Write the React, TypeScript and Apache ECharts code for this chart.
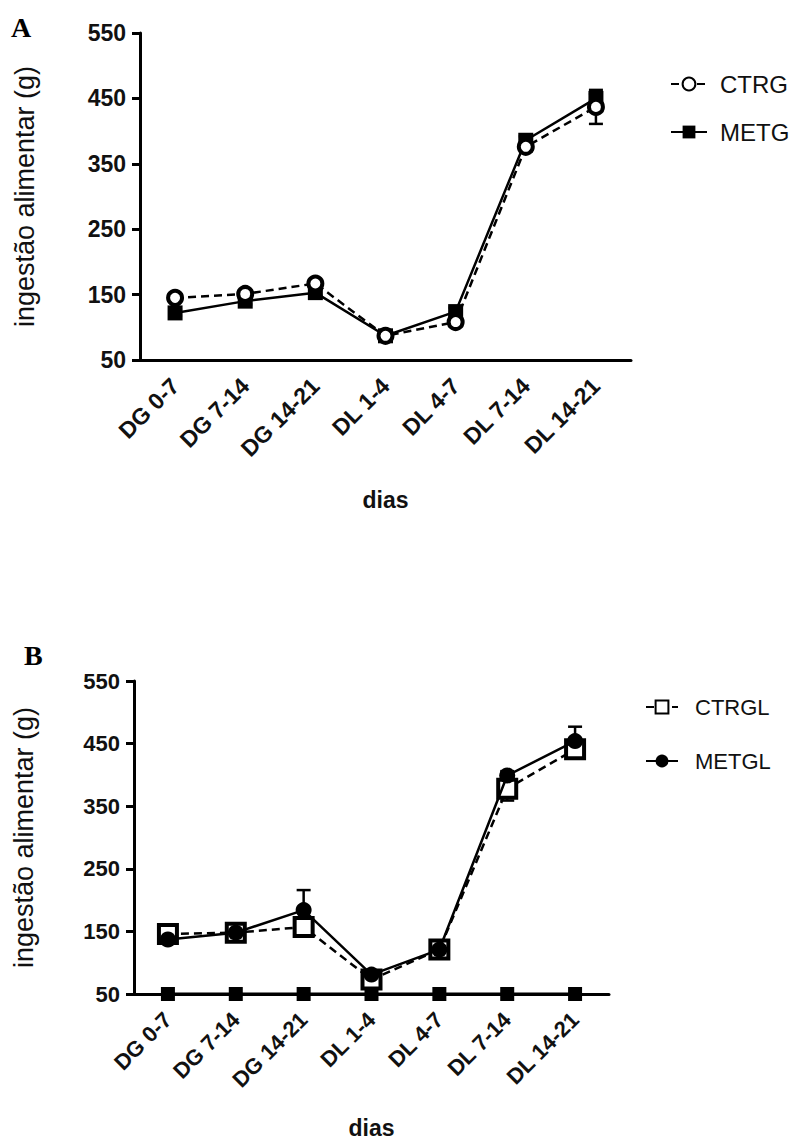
import React, { useEffect, useRef } from "react";
import * as echarts from "echarts";

const categories = ["DG 0-7", "DG 7-14", "DG 14-21", "DL 1-4", "DL 4-7", "DL 7-14", "DL 14-21"];
const yTicks = [50, 150, 250, 350, 450, 550];

// Panel A
const ctrgA = [145, 151, 167, 87, 108, 376, 437];
const ctrgAErr = [5, 5, 5, 4, 6, 7, 26];
const metgA = [122, 140, 153, 87, 124, 386, 450];
const metgAErr = [5, 5, 5, 4, 6, 6, 7];

// Panel B
const ctrglB = [146, 148, 157, 73, 121, 378, 441];
const ctrglBErr = [5, 5, 8, 6, 5, 19, 10];
const metglB = [137, 148, 184, 81, 121, 399, 454];
const metglBErr = [5, 5, 32, 6, 5, 7, 23];
const baselineB = [50, 50, 50, 50, 50, 50, 50];

const FONT = "Liberation Sans";

const errSeries = (vals: number[], errs: number[], xi: number, capW: number, z: number) => ({
  type: "custom",
  xAxisIndex: xi,
  yAxisIndex: xi,
  z,
  silent: true,
  encode: { x: 0, y: 1 },
  data: vals.map((v, i) => [i, v, errs[i]]),
  renderItem: (params: any, api: any) => {
    const i = api.value(0);
    const v = api.value(1);
    const e = api.value(2);
    const hi = api.coord([i, v + e]);
    const lo = api.coord([i, v - e]);
    const st = { stroke: "#000", lineWidth: 2.5 };
    return {
      type: "group",
      children: [
        { type: "line", shape: { x1: hi[0], y1: hi[1], x2: lo[0], y2: lo[1] }, style: st },
        { type: "line", shape: { x1: hi[0] - capW, y1: hi[1], x2: hi[0] + capW, y2: hi[1] }, style: st },
        { type: "line", shape: { x1: lo[0] - capW, y1: lo[1], x2: lo[0] + capW, y2: lo[1] }, style: st },
      ],
    };
  },
});

const makeXAxis = (gi: number, labelSize: number, nameGap: number) => ({
  type: "category",
  gridIndex: gi,
  data: categories,
  boundaryGap: true,
  name: "dias",
  nameLocation: "middle",
  nameGap,
  nameTextStyle: { fontFamily: FONT, fontSize: 23, fontWeight: "bold", color: "#111" },
  axisLine: { lineStyle: { color: "#000", width: 3 } },
  axisTick: { alignWithLabel: true, length: 8, lineStyle: { color: "#000", width: 3 } },
  axisLabel: {
    rotate: 45,
    margin: 22,
    interval: 0,
    fontFamily: FONT,
    fontSize: labelSize,
    fontWeight: "bold",
    color: "#111",
  },
  splitLine: { show: false },
});

const makeYAxis = (gi: number, labelSize: number, nameSize: number, nameGap: number) => ({
  type: "value",
  gridIndex: gi,
  min: yTicks[0],
  max: yTicks[yTicks.length - 1],
  interval: 100,
  name: "ingestão alimentar (g)",
  nameLocation: "middle",
  nameGap,
  nameTextStyle: { fontFamily: FONT, fontSize: nameSize, color: "#111" },
  axisLine: { show: true, lineStyle: { color: "#000", width: 3 } },
  axisTick: { show: true, length: 8, lineStyle: { color: "#000", width: 3 } },
  axisLabel: { margin: 14, fontFamily: FONT, fontSize: labelSize, fontWeight: "bold", color: "#111" },
  splitLine: { show: false },
});

export default function App() {
  const ref = useRef<HTMLDivElement>(null);
  useEffect(() => {
    if (!ref.current) return;
    const chart = echarts.init(ref.current, null, { renderer: "svg" });
    const option: any = {
      animation: false,
      backgroundColor: "#fff",
      grid: [
        { left: 140, top: 33, width: 491, height: 327 },
        { left: 134, top: 681, width: 475, height: 317 },
      ],
      xAxis: [makeXAxis(0, 23, 128), makeXAxis(1, 22, 122)],
      yAxis: [makeYAxis(0, 23, 27, 102), makeYAxis(1, 22, 27, 97)],
      legend: [
        {
          data: ["CTRG", "METG"],
          orient: "vertical",
          left: 665,
          top: 67,
          itemWidth: 36,
          itemHeight: 16,
          itemGap: 24,
          textStyle: { fontFamily: FONT, fontSize: 24, color: "#111", padding: [0, 0, 0, 8] },
        },
        {
          data: ["CTRGL", "METGL"],
          orient: "vertical",
          left: 640,
          top: 691,
          itemWidth: 32,
          itemHeight: 16,
          itemGap: 32,
          textStyle: { fontFamily: FONT, fontSize: 22, color: "#111", padding: [0, 0, 0, 12] },
        },
      ],
      graphic: [
        {
          type: "text",
          left: 11,
          top: 13,
          style: { text: "A", font: "bold 28px 'Liberation Serif'", fill: "#000" },
        },
        {
          type: "text",
          left: 24,
          top: 641,
          style: { text: "B", font: "bold 28px 'Liberation Serif'", fill: "#000" },
        },
      ],
      series: [
        errSeries(metgA, metgAErr, 0, 7, 2),
        errSeries(ctrgA, ctrgAErr, 0, 7, 2),
        {
          name: "METG",
          type: "line",
          xAxisIndex: 0,
          yAxisIndex: 0,
          data: metgA,
          z: 3,
          symbol: "rect",
          symbolSize: 15,
          lineStyle: { color: "#000", width: 2.5 },
          itemStyle: { color: "#000", borderColor: "#000", borderWidth: 0 },
        },
        {
          name: "CTRG",
          type: "line",
          xAxisIndex: 0,
          yAxisIndex: 0,
          data: ctrgA,
          z: 4,
          symbol: "circle",
          symbolSize: 14,
          lineStyle: { color: "#000", width: 2.5, type: [8, 5] },
          itemStyle: { color: "#fff", borderColor: "#000", borderWidth: 4 },
        },
        errSeries(ctrglB, ctrglBErr, 1, 7, 2),
        errSeries(metglB, metglBErr, 1, 7, 2),
        {
          name: "baseline",
          type: "line",
          xAxisIndex: 1,
          yAxisIndex: 1,
          data: baselineB,
          z: 5,
          clip: false,
          symbol: "rect",
          symbolSize: 14,
          lineStyle: { color: "#000", width: 3 },
          itemStyle: { color: "#000" },
        },
        {
          name: "CTRGL",
          type: "line",
          xAxisIndex: 1,
          yAxisIndex: 1,
          data: ctrglB,
          z: 3,
          symbol: "rect",
          symbolSize: 18,
          lineStyle: { color: "#000", width: 2.5, type: [8, 5] },
          itemStyle: { color: "#fff", borderColor: "#000", borderWidth: 4 },
        },
        {
          name: "METGL",
          type: "line",
          xAxisIndex: 1,
          yAxisIndex: 1,
          data: metglB,
          z: 4,
          symbol: "circle",
          symbolSize: 16,
          lineStyle: { color: "#000", width: 2.5 },
          itemStyle: { color: "#000" },
        },
      ],
    };
    chart.setOption(option);
    return () => chart.dispose();
  }, []);
  return (
    <div
      ref={ref}
      style={{ position: "absolute", left: 0, top: 0, width: 792, height: 1140, background: "#fff" }}
    />
  );
}
